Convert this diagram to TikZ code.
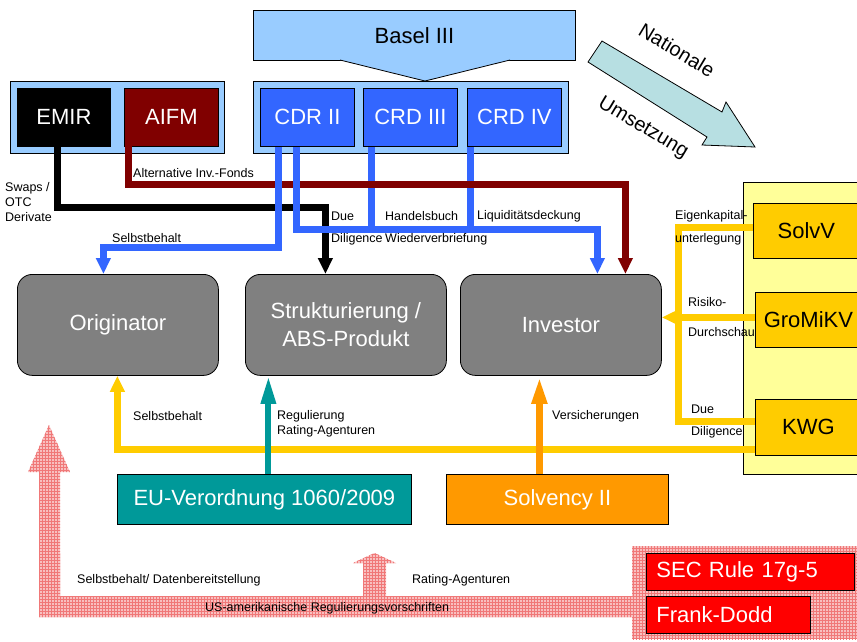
\documentclass[tikz,border=0pt]{standalone}
\usepackage{fontspec}
\setmainfont{Liberation Sans}
\usetikzlibrary{arrows.meta,patterns}
\definecolor{lblue}{HTML}{99CCFF}
\definecolor{mblue}{HTML}{3366FF}
\definecolor{dred}{HTML}{800000}
\definecolor{boxgray}{HTML}{808080}
\definecolor{lyellow}{HTML}{FFFF99}
\definecolor{gold}{HTML}{FFCC00}
\definecolor{tealc}{HTML}{009999}
\definecolor{orangec}{HTML}{FF9900}
\definecolor{redc}{HTML}{FF0000}
\definecolor{natc}{HTML}{B7DFE2}
\definecolor{pinkbase}{HTML}{F8C0C0}
\definecolor{pinkline}{HTML}{F07878}
\newcommand\bigfont{\fontsize{22}{26}\selectfont}
\newcommand\smallfont{\fontsize{12.5}{15}\selectfont}
\tikzset{
  box/.style={draw=black, line width=0.8pt, inner sep=0pt, anchor=north west, font=\bigfont},
  wbox/.style={box, text=white},
  gbox/.style={box, fill=boxgray, text=white, rounded corners=15pt, minimum width=201pt, minimum height=101pt, align=center, font=\fontsize{22}{28}\selectfont},
  lbl/.style={anchor=west, inner sep=0pt, font=\smallfont, align=left},
  conn/.style={line width=7pt},
  tipS/.style={-{Triangle[width=14pt,length=16pt]}},
  tipL/.style={-{Triangle[width=14pt,length=28pt]}},
  pinkfill/.style={fill=pinkbase, postaction={pattern=grid, pattern color=pinkline}},
}
\begin{document}
\begin{tikzpicture}[x=1pt,y=-1pt]
\clip (0,0) rectangle (857,641);
\fill[white] (0,0) rectangle (857,641);

% ---------- Basel III ----------
\node[box, fill=lblue, minimum width=322pt, minimum height=50pt] (basel) at (253,10) {Basel III};
\fill[lblue] (340,60) -- (425,81) -- (510,60) -- cycle;
\draw[line width=0.8pt] (340,60) -- (425,81) -- (510,60);

% ---------- groups ----------
\node[box, fill=lblue, minimum width=214pt, minimum height=72pt] (lgroup) at (10,81) {};
\node[wbox, fill=black, minimum width=93pt, minimum height=58pt] (emir) at (17,88) {EMIR};
\node[wbox, fill=dred, minimum width=94pt, minimum height=58pt] (aifm) at (124,88) {AIFM};

\node[box, fill=lblue, minimum width=315pt, minimum height=72pt] (rgroup) at (253,81) {};
\node[wbox, fill=mblue, minimum width=94pt, minimum height=58pt] (cdr) at (260,88) {CDR II};
\node[wbox, fill=mblue, minimum width=94pt, minimum height=58pt] (crd3) at (363,88) {CRD III};
\node[wbox, fill=mblue, minimum width=94pt, minimum height=58pt] (crd4) at (467,88) {CRD IV};

% ---------- Nationale Umsetzung ----------
\draw[fill=natc, line width=0.8pt] (602,41) -- (722,112) -- (726,102) -- (755,147) -- (702,145) -- (707,137) -- (588,62) -- cycle;
\node[rotate=-31, font=\fontsize{20}{24}\selectfont, inner sep=0pt] (natl) at (677,50) {Nationale};
\node[rotate=-31, font=\fontsize{20}{24}\selectfont, inner sep=0pt] (ums) at (643,128) {Umsetzung};

% ---------- main gray boxes ----------
\node[gbox] (orig) at (17,274) {Originator};
\node[gbox] (struct) at (245,274) {Strukturierung /\\ABS-Produkt};
\node[gbox] (invest) at (460,274) {Investor};

% ---------- national panel ----------
\node[box, fill=lyellow, minimum width=125pt, minimum height=292pt] (natpanel) at (743,182) {};
\node[box, fill=gold, minimum width=106pt, minimum height=55pt] (solvv) at (753,203) {SolvV};
\node[box, fill=gold, minimum width=106pt, minimum height=55pt] (gromikv) at (755,292) {GroMiKV};
\node[box, fill=gold, minimum width=106pt, minimum height=56pt] (kwg) at (755,399) {KWG};

% ---------- EU boxes ----------
\node[wbox, fill=tealc, minimum width=294pt, minimum height=50pt] (eu) at (117,474) {EU-Verordnung 1060/2009};
\node[wbox, fill=orangec, minimum width=222pt, minimum height=50pt] (solv2) at (446,474) {Solvency II};

% ---------- US part ----------
\path[pinkfill] (49,425) -- (70,472) -- (60,472) -- (60,596) -- (363,596) -- (363,563) -- (353,563)
  -- (374.5,553) -- (396,563) -- (386,563) -- (386,596) -- (632,596) -- (632,617) -- (39,617)
  -- (39,472) -- (28,472) -- cycle;
\node[anchor=north west, inner sep=0pt, pinkfill, minimum width=230pt, minimum height=93pt] (uspanel) at (632,546) {};
\node[wbox, fill=redc, minimum height=37pt, text width=188pt, inner xsep=10pt, align=left] (sec) at (646,553) {SEC Rule 17g-5};
\node[wbox, fill=redc, minimum height=37pt, text width=144pt, inner xsep=10pt, align=left] (frank) at (646,596) {Frank-Dodd};

% ---------- connectors: CRD III / CRD IV (below red) ----------
\draw[conn, mblue] ([xshift=-39pt]crd3.south) -- ++(0,83);
\draw[conn, mblue] ([xshift=-44pt]crd4.south) -- ++(0,83);

% ---------- red AIFM ----------
\draw[conn, dred, tipS] ([xshift=-43pt,yshift=6pt]aifm.south) |- (400,184) -| ([xshift=64.5pt]invest.north);
% ---------- black EMIR ----------
\draw[conn, black, tipS] ([xshift=-6.5pt]emir.south) |- (200,207) -| ([xshift=-20.5pt]struct.north);

% ---------- blue CDR II ----------
\draw[conn, mblue, tipS] ([xshift=-29pt]cdr.south) |- (200,247) -| ([xshift=-14.5pt]orig.north);
\draw[conn, mblue, tipS] ([xshift=-11pt]cdr.south) |- (450,229) -| ([xshift=36.5pt]invest.north);

% ---------- yellow national ----------
\coordinate (sv) at ([yshift=3.5pt]solvv.west);
\coordinate (kd) at ([yshift=6pt]kwg.west);
\coordinate (kl) at ([yshift=-22pt]kwg.west);
\coordinate (gm) at ([yshift=2.5pt]gromikv.west);
\draw[conn, gold] (sv) -- ++(-75,0) |- (kd);
\draw[conn, gold, tipS] (gm) -- (gm -| invest.east);
\draw[conn, gold, tipS] (kl) -| ([xshift=-0.5pt]orig.south);

% ---------- teal / orange ----------
\draw[conn, tealc, line width=6pt, tipL] ([xshift=4pt]eu.north) -- ([xshift=4pt]eu.north |- struct.south);
\draw[conn, orangec, tipL] ([xshift=-18pt]solv2.north) -- ([xshift=-18pt]solv2.north |- invest.south);

% ---------- labels ----------
\node[lbl] (l1) at (5,202) {Swaps /\\OTC\\Derivate};
\node[lbl] (l2) at (133,173) {Alternative Inv.-Fonds};
\node[lbl] (l3) at (112,238) {Selbstbehalt};
\node[lbl] (l4) at (331,216) {Due};
\node[lbl] (l5) at (331,239) {Diligence};
\node[lbl] (l6) at (385,216) {Handelsbuch};
\node[lbl] (l7) at (385,239) {Wiederverbriefung};
\node[lbl] (l8) at (477,216) {Liquiditätsdeckung};
\node[lbl] (l9) at (675,216) {Eigenkapital-};
\node[lbl] (l10) at (675,239) {unterlegung};
\node[lbl] (l11) at (688,302) {Risiko-};
\node[lbl] (l12) at (688,332) {Durchschau};
\node[lbl] (l13) at (691,409) {Due};
\node[lbl] (l14) at (691,432) {Diligence};
\node[lbl] (l15) at (133,416) {Selbstbehalt};
\node[lbl] (l16) at (277,423.5) {Regulierung\\Rating-Agenturen};
\node[lbl] (l17) at (552,416) {Versicherungen};
\node[lbl] (l18) at (77,580) {Selbstbehalt/ Datenbereitstellung};
\node[lbl] (l19) at (412,580) {Rating-Agenturen};
\node[lbl] (l20) at (205,608) {US-amerikanische Regulierungsvorschriften};
\end{tikzpicture}
\end{document}
